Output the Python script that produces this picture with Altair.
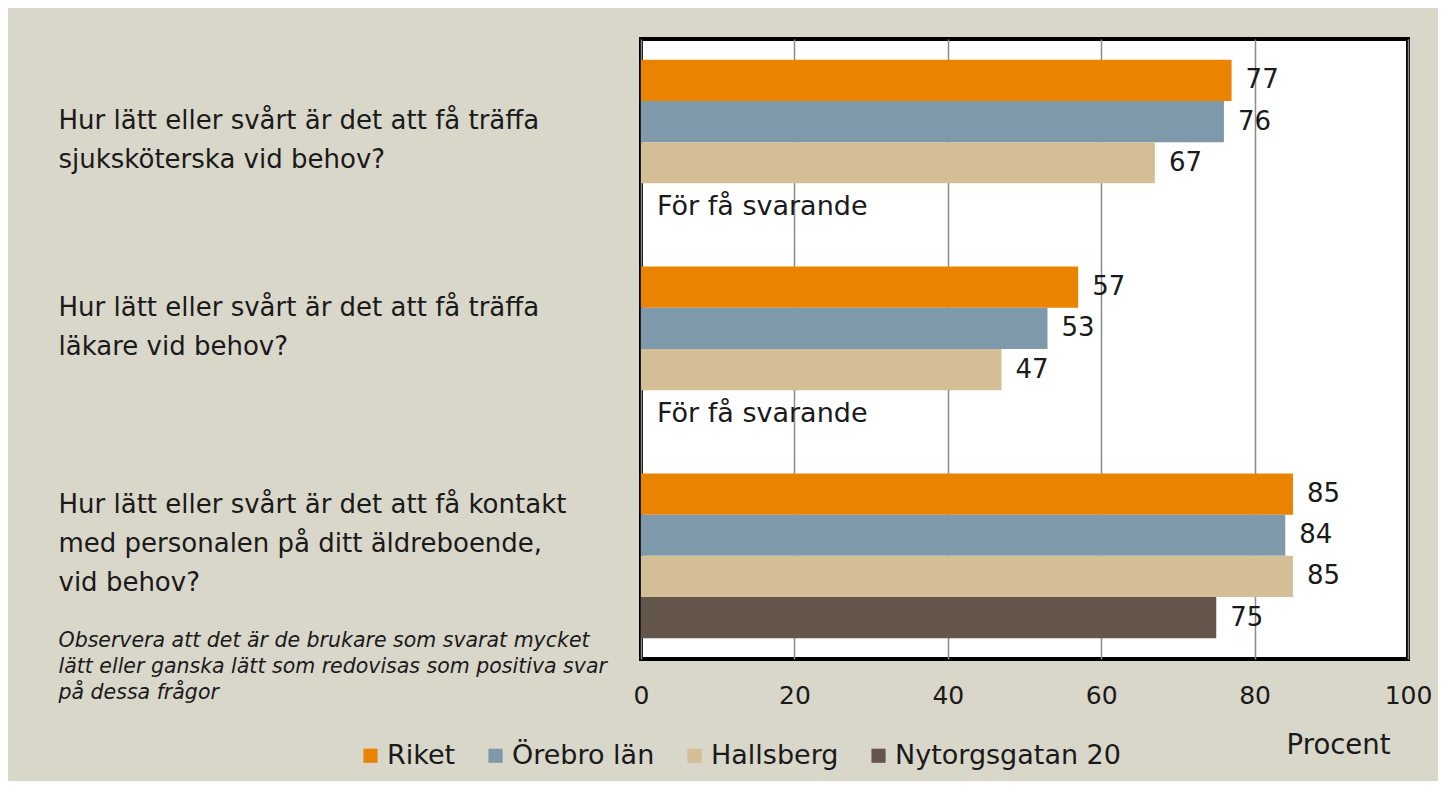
import altair as alt
import pandas as pd

# ---- data ----
question_lines = [
    ["Hur lätt eller svårt är det att få träffa", "sjuksköterska vid behov?"],
    ["Hur lätt eller svårt är det att få träffa", "läkare vid behov?"],
    ["Hur lätt eller svårt är det att få kontakt", "med personalen på ditt äldreboende,", "vid behov?"],
]
series = ["Riket", "Örebro län", "Hallsberg", "Nytorgsgatan 20"]
riket = [77, 57, 85]
orebro = [76, 53, 84]
hallsberg = [67, 47, 85]
nytorg = [None, None, 75]
colors = ["#E98300", "#7D99AA", "#D3BE96", "#64564A"]
missing_text = "För få svarande"
note_lines = [
    "Observera att det är de brukare som svarat mycket",
    "lätt eller ganska lätt som redovisas som positiva svar",
    "på dessa frågor",
]
x_ticks = [0, 20, 40, 60, 80, 100]

questions = ["|".join(l) for l in question_lines]

rows, missing = [], []
for i, q in enumerate(questions):
    for s, vals in zip(series, [riket, orebro, hallsberg, nytorg]):
        v = vals[i]
        if v is None:
            missing.append({"q": q, "s": s, "x": 0, "t": missing_text})
        else:
            rows.append({"q": q, "s": s, "v": v})
df = pd.DataFrame(rows)
dm = pd.DataFrame(missing)

FONT = "DejaVu Sans"
TXT = "#1a1a1a"

# vertical shift of the first label line relative to the band centre
label_offsets = [-21, -41, -51]
offset_cond = {
    "condition": [
        {"test": f"datum.value == '{questions[0]}'", "value": label_offsets[0]},
        {"test": f"datum.value == '{questions[1]}'", "value": label_offsets[1]},
    ],
    "value": label_offsets[2],
}

y_enc = alt.Y(
    "q:N",
    sort=questions,
    scale=alt.Scale(paddingInner=0.203, paddingOuter=0.1),
    axis=alt.Axis(
        labelExpr="split(datum.label, '|')",
        labelAlign="left",
        labelBaseline="middle",
        labelPadding=583,
        labelFontSize=26,
        labelLineHeight=39,
        labelColor=TXT,
        labelOffset=offset_cond,
        labelLimit=0,
        ticks=False,
        tickSize=0,
        domain=False,
        grid=False,
        title=note_lines,
        titleAngle=0,
        titleAlign="left",
        titleBaseline="top",
        titleX=-583,
        titleY=591,
        titleFontSize=20.5,
        titleFontStyle="italic",
        titleFontWeight="normal",
        titleLineHeight=26,
        titleColor=TXT,
    ),
)
yoff_enc = alt.YOffset("s:N", sort=series, scale=alt.Scale(domain=series, paddingInner=0, paddingOuter=0))
x_enc = alt.X(
    "v:Q",
    scale=alt.Scale(domain=[0, 100], nice=False),
    axis=alt.Axis(
        values=x_ticks,
        labelFontSize=25,
        labelColor=TXT,
        labelPadding=24,
        labelFlush=False,
        ticks=False,
        tickSize=0,
        domain=False,
        grid=True,
        gridColor="#8c8c8c",
        gridWidth=1.5,
        title="Procent",
        titleFontSize=27.5,
        titleFontWeight="normal",
        titleColor=TXT,
        titleAlign="right",
        titleAnchor="end",
        titleX=749,
        titleY=94,
        titleBaseline="alphabetic",
    ),
)

bars = alt.Chart(df).mark_bar().encode(
    y=y_enc,
    yOffset=yoff_enc,
    x=x_enc,
    color=alt.Color(
        "s:N",
        sort=series,
        scale=alt.Scale(domain=series, range=colors),
        legend=alt.Legend(
            title=None,
            orient="none",
            legendX=-284,
            legendY=703,
            direction="horizontal",
            columns=4,
            symbolType="square",
            symbolSize=200,
            symbolStrokeWidth=0,
            labelFontSize=27,
            labelColor=TXT,
            labelLimit=0,
            labelOffset=3,
            columnPadding=26,
            padding=0,
        ),
    ),
)

values = alt.Chart(df).mark_text(
    align="left", baseline="middle", dx=14, fontSize=26, color=TXT, font=FONT
).encode(y=alt.Y("q:N", sort=questions), yOffset=alt.YOffset("s:N", sort=series), x="v:Q", text="v:Q")

few = alt.Chart(dm).mark_text(
    align="left", baseline="middle", dx=16, dy=3, fontSize=27, color=TXT, font=FONT
).encode(y=alt.Y("q:N", sort=questions), yOffset=alt.YOffset("s:N", sort=series), x="x:Q", text="t:N")

chart = (
    alt.layer(bars, values, few)
    .properties(
        width=767,
        height=620,
        background="#D9D6CA",
        autosize=alt.AutoSizeParams(type="none"),
        padding={"left": 633, "top": 31, "right": 30, "bottom": 122},
    )
    .configure(font=FONT)
    .configure_view(fill="white", stroke="black", strokeWidth=4)
)

chart.save("out.html", embed_options={"renderer": "svg", "actions": False})
